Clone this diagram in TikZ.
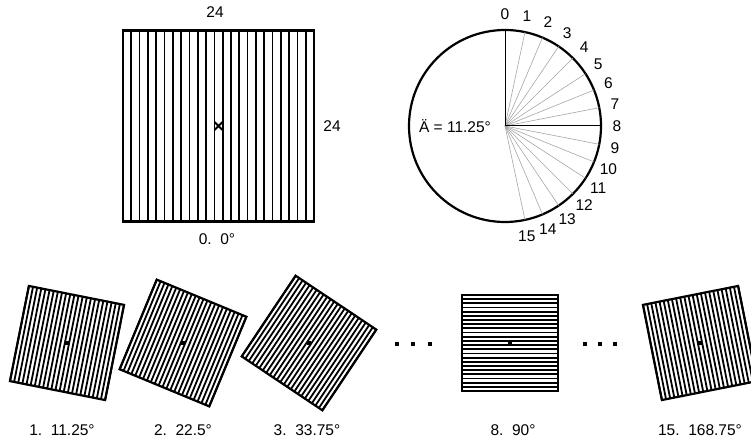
\documentclass[tikz,border=0pt]{standalone}
\usepackage{fontspec}
\setmainfont{Liberation Sans}
\usepackage{tikz}
\usetikzlibrary{positioning,calc}

\tikzset{
  txt/.style={inner sep=0pt, font=\fontsize{15.5}{18}\selectfont},
  gline/.style={line width=1.8pt},
  gframe/.style={line width=2.2pt, line join=miter},
  ray/.style={gray!70, line width=0.6pt},
  mainray/.style={black, line width=1pt},
  grating/.pic={
    \foreach \i in {0,...,23}
      \draw[gline] ({-0.5+\i/23},-0.508) -- ({-0.5+\i/23},0.508);
    \draw[gframe] (-0.5,-0.5) rectangle (0.5,0.5);
  }
}

\begin{document}
\begin{tikzpicture}[x=1pt, y=1pt]
  \useasboundingbox (0,0) rectangle (751,442);

  % reference grating
  \pic (g0) [scale=191, gline/.style={line width=1.7pt}] at (218.5,316) {grating};
  \coordinate (c0) at (218.5,316);
  \draw[line width=2pt] ($(c0)+(-4,-4)$) -- ($(c0)+(4,4)$) ($(c0)+(-4,4)$) -- ($(c0)+(4,-4)$);
  \node[txt] (top) at (215,430) {24};
  \node[txt] (side) at (332,316) {24};
  \node[txt] (zero) at (217,203) {0.\ \ 0°};

  % angle wheel
  \node[draw, circle, line width=2.2pt, minimum size=192pt, inner sep=0pt, outer sep=0pt] (wheel) at (505,316) {};
  \foreach \k in {1,...,7,9,10,...,15}
    \draw[ray] (wheel.center) -- (wheel.{90-\k*11.25});
  \draw[mainray] (wheel.center) -- (wheel.90);
  \draw[mainray] (wheel.center) -- (wheel.0);
  \foreach \k in {0,...,15}
    \node[txt] (n\k) at ([shift={({90-\k*11.25}:112)}]wheel.center) {\k};
  \node[txt] (delta) at (455,316) {Ä = 11.25°};

  % rotated gratings
  \pic (g1) [scale=97, rotate=-11.25] at (67,99) {grating};
  \pic (g2) [scale=97, rotate=-22.5] at (183,99) {grating};
  \pic (g3) [scale=97, rotate=-33.75] at (309,99) {grating};
  \pic (g8) [scale=96, rotate=-90] at (510,99) {grating};
  \pic (g15) [scale=97, rotate=-168.75] at (700,99) {grating};
  \foreach \x in {67,183,309,510,700}
    \fill (\x-2,97) rectangle (\x+2,101);

  % dots
  \foreach \x in {397,413,430,585,600,615}
    \fill (\x-2,96) rectangle (\x+2,100);

  \node[txt] (l1) at (62,12) {1.\ \ 11.25°};
  \node[txt] (l2) at (183,12) {2.\ \ 22.5°};
  \node[txt] (l3) at (307,12) {3.\ \ 33.75°};
  \node[txt] (l8) at (513,12) {8.\ \ 90°};
  \node[txt] (l15) at (700,12) {15.\ \ 168.75°};
\end{tikzpicture}
\end{document}
